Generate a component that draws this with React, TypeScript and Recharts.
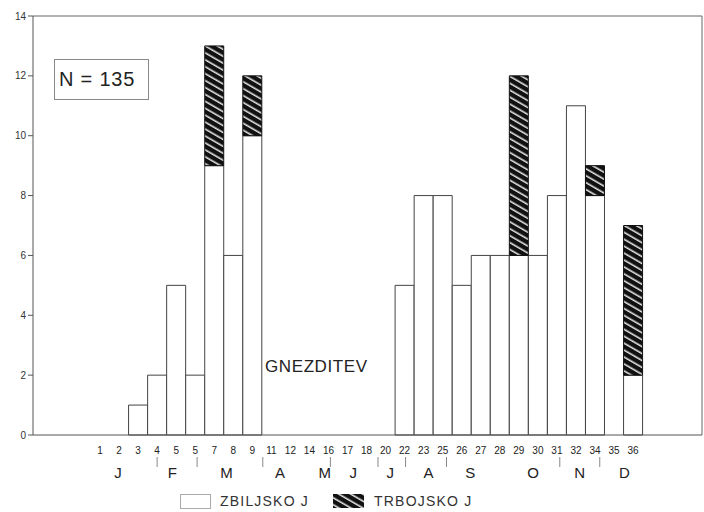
import React from "react"
import { BarChart, Bar, XAxis, YAxis, ReferenceLine, Legend } from "recharts"

// ten-day periods as printed under the axis
const periods = ["1", "2", "3", "4", "5", "5", "7", "8", "9", "11", "12", "14", "16", "17", "18", "20", "22", "23", "25", "26", "27", "28", "29", "30", "31", "32", "34", "35", "36"]
const zbiljsko = [0, 0, 1, 2, 5, 2, 9, 6, 10, 0, 0, 0, 0, 0, 0, 0, 5, 8, 8, 5, 6, 6, 6, 6, 8, 11, 8, 0, 2]
const trbojsko = [0, 0, 0, 0, 0, 0, 4, 0, 2, 0, 0, 0, 0, 0, 0, 0, 0, 0, 0, 0, 0, 0, 6, 0, 0, 0, 1, 0, 5]

const months = ["J", "F", "M", "A", "M", "J", "J", "A", "S", "O", "N", "D"]
// month letters and the little dividers between them, in period units
const monthAt = [0.95, 3.8, 6.65, 9.45, 11.8, 13.3, 15.25, 17.25, 19.45, 22.75, 25.2, 27.55]
const monthBreaks = [3, 5.1, 8.55, 12.1, 14.6, 16.05, 18.2, 24.15, 26.25]

const yTicks = [0, 2, 4, 6, 8, 10, 12, 14]
const xDomain: [number, number] = [-3.52, 31.62]

const data = periods.map((p, i) => ({ i, period: p, zbiljsko: zbiljsko[i], trbojsko: trbojsko[i] }))

const FONT = "'Liberation Sans', Arial, sans-serif"

const MonthTick = ({ x, y, payload }: any) => {
  const k = monthAt.indexOf(payload.value)
  if (k < 0) {
    return <line x1={x} x2={x} y1={y - 6} y2={y + 4} stroke="#888" strokeWidth={1} />
  }
  return (
    <text x={x} y={y + 15} textAnchor="middle" fontSize={15} fill="#222" fontFamily={FONT}>
      {months[k]}
    </text>
  )
}

const HatchSwatch = () => (
  <svg width={31} height={14} style={{ marginRight: 10 }}>
    <defs>
      <pattern id="hatchKey" patternUnits="userSpaceOnUse" width="6" height="6" patternTransform="rotate(30)">
        <rect width="6" height="6" fill="#111" />
        <rect y="2.5" width="6" height="1.4" fill="#fff" />
      </pattern>
    </defs>
    <rect width={31} height={14} fill="url(#hatchKey)" />
  </svg>
)

const LegendContent = () => (
  <div style={{ display: "flex", alignItems: "center", height: 18, fontFamily: FONT, fontSize: 14, letterSpacing: 1.2, color: "#333" }}>
    <span style={{ display: "inline-block", width: 29, height: 13, border: "1px solid #aaa", background: "#fff", marginRight: 9 }} />
    <span style={{ marginRight: 24 }}>ZBILJSKO J</span>
    <HatchSwatch />
    <span>TRBOJSKO J</span>
  </div>
)

export default function App() {
  return (
    <div style={{ position: "absolute", left: 0, top: 0, width: 704, height: 512, background: "#fff", fontFamily: FONT }}>
      <BarChart width={704} height={512} data={data} margin={{ top: 16, right: 2, left: 0, bottom: 17 }} barCategoryGap={0}>
        <defs>
          <pattern id="hatch" patternUnits="userSpaceOnUse" width="6" height="6" patternTransform="rotate(30)">
            <rect width="6" height="6" fill="#111" />
            <rect y="2.5" width="6" height="1.4" fill="#fff" />
          </pattern>
        </defs>
        <XAxis
          xAxisId="a1"
          dataKey="i"
          type="number"
          domain={xDomain}
          ticks={data.map((d) => d.i)}
          interval={0}
          tickFormatter={(v) => periods[v]}
          tickLine={false}
          tickSize={10}
          height={20}
          stroke="#555"
          tick={{ fontSize: 10, fill: "#222", fontFamily: FONT }}
        />
        <XAxis
          xAxisId="b2"
          dataKey="i"
          type="number"
          domain={xDomain}
          ticks={[...monthAt, ...monthBreaks].sort((a, b) => a - b)}
          interval={0}
          tick={<MonthTick />}
          axisLine={false}
          tickLine={false}
          height={22}
        />
        <YAxis
          domain={[0, 14]}
          ticks={yTicks}
          interval={0}
          width={33}
          tickSize={5}
          stroke="#555"
          tick={{ fontSize: 10, fill: "#333", fontFamily: FONT }}
        />
        <ReferenceLine xAxisId="a1" y={14} stroke="#666" />
        <ReferenceLine xAxisId="a1" x={xDomain[1]} stroke="#666" />
        <Bar xAxisId="a1" dataKey="zbiljsko" stackId="a" fill="#fff" stroke="#444" strokeWidth={1} isAnimationActive={false} />
        <Bar xAxisId="a1" dataKey="trbojsko" stackId="a" fill="url(#hatch)" stroke="#111" strokeWidth={1} isAnimationActive={false} />
        <Legend content={<LegendContent />} wrapperStyle={{ left: 180, bottom: 2, width: "auto" }} />
      </BarChart>

      <div style={{ position: "absolute", left: 54, top: 59, width: 89, height: 39, border: "1px solid #888", fontSize: 20, letterSpacing: 0.8, color: "#222", lineHeight: "39px", paddingLeft: 4, boxSizing: "content-box" }}>
        N = 135
      </div>
      <div style={{ position: "absolute", left: 265, top: 358, fontSize: 17, letterSpacing: 0.6, color: "#222", lineHeight: "18px" }}>
        GNEZDITEV
      </div>
    </div>
  )
}
